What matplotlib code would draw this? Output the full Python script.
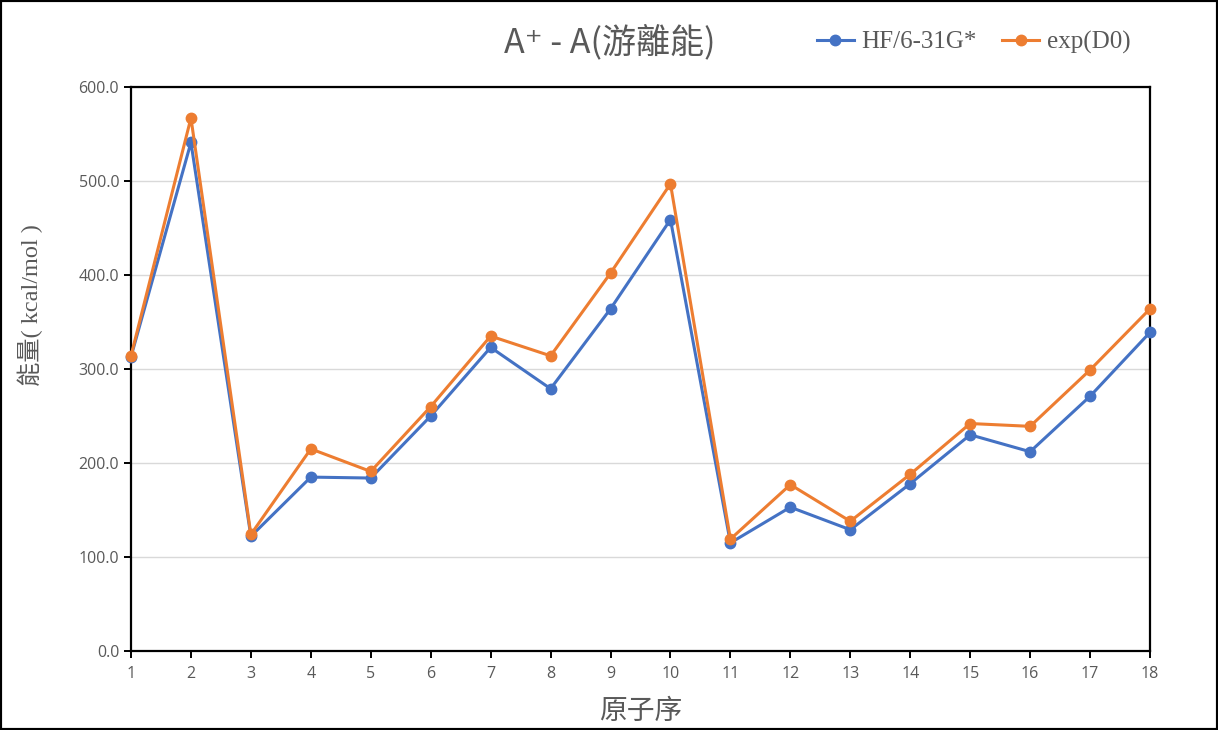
import matplotlib
matplotlib.use("Agg")
import matplotlib.pyplot as plt
import matplotlib.ticker as ticker

# Atomic number
atomic_number = list(range(1, 19))

# Ionization energy (kcal/mol)
hf_631g = [313, 541, 122, 185, 184, 250, 323, 279, 364, 459,
           115, 153, 129, 178, 230, 212, 271, 339]
exp_d0 = [314, 567, 124, 215, 191, 260, 335, 314, 402, 497,
          119, 177, 138, 188, 242, 239, 299, 364]

title_text = "A⁺ - A(游離能)"
ylabel_text = "能量( kcal/mol )"
xlabel_text = "原子序"

plt.rcParams["font.family"] = ["Liberation Serif", "Noto Sans CJK TC", "DejaVu Sans"]

fig = plt.figure(figsize=(12.18, 7.30), dpi=100)
ax = fig.add_axes([131 / 1218, 79 / 730, 1019 / 1218, 564 / 730])

ax.plot(atomic_number, hf_631g, color="#4472C4", lw=2.2, marker="o",
        markersize=7.5, label="HF/6-31G*", zorder=3, clip_on=False)
ax.plot(atomic_number, exp_d0, color="#ED7D31", lw=2.2, marker="o",
        markersize=7.5, label="exp(D0)", zorder=4, clip_on=False)

ax.set_xlim(1, 18)
ax.set_ylim(0, 600)
ax.set_xticks(atomic_number)
ax.yaxis.set_major_locator(ticker.MultipleLocator(100))
ax.yaxis.set_major_formatter(ticker.FuncFormatter(lambda v, _: f"{v:.1f}"))
ax.grid(axis="y", color="#D9D9D9", lw=1)
ax.set_axisbelow(True)

for side in ["left", "bottom", "top", "right"]:
    ax.spines[side].set_color("black")
    ax.spines[side].set_linewidth(1.6)

ax.tick_params(direction="out", length=5, width=1.4, color="black",
               labelcolor="#595959", labelsize=11.5)
for lbl in ax.get_xticklabels() + ax.get_yticklabels():
    lbl.set_family(["Open Sans", "DejaVu Sans"])
ax.tick_params(axis="x", pad=6)

ax.set_ylabel(ylabel_text, fontsize=17.5, color="#595959",
              family=["Liberation Serif", "Noto Sans CJK TC"])
ax.yaxis.set_label_coords(-0.086, 0.613)
ax.set_xlabel(xlabel_text, fontsize=20, color="#595959",
              family=["Noto Sans CJK TC"], labelpad=10)

fig.text(0.501, 0.942, title_text, ha="center", va="center", fontsize=24.5,
         color="#595959", family=["Noto Sans CJK TC", "DejaVu Sans"])

leg = fig.legend(loc="center left", bbox_to_anchor=(794 / 1218, 0.942),
                 ncol=2, frameon=False, fontsize=18, handlelength=1.5,
                 columnspacing=1.0, handletextpad=0.3)
for t in leg.get_texts():
    t.set_color("#595959")

# Outer border
fig.patches.append(plt.Rectangle((0, 0), 1, 1, transform=fig.transFigure,
                                 fill=False, edgecolor="black", lw=3))

fig.savefig("out.png", dpi=100)
